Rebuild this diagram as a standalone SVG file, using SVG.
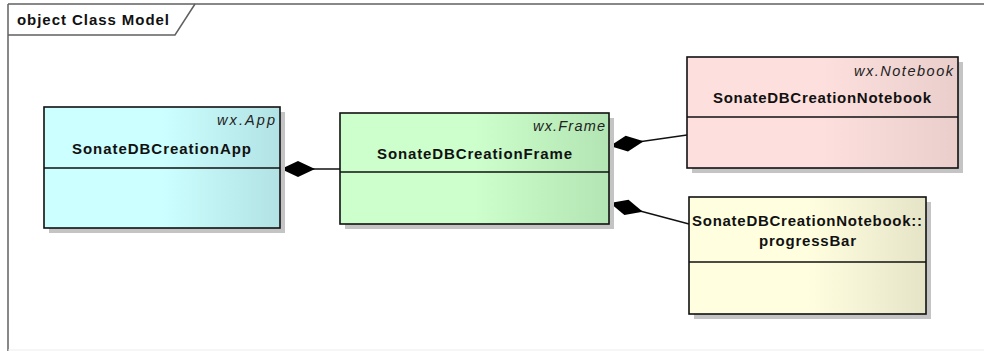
<svg xmlns="http://www.w3.org/2000/svg" width="984" height="351" viewBox="0 0 984 351">
  <defs>
    <style>
      .frame { fill: none; stroke: #606060; stroke-width: 1.5; }
      .shadow { fill: #c4c4c4; }
      .box { stroke: #111; stroke-width: 1.6; }
      .div { stroke: #111; stroke-width: 1.5; }
      .name { font-family: "Liberation Sans", Arial, sans-serif; font-size: 15px; font-weight: bold; fill: #111; }
      .stereo { font-family: "Liberation Sans", Arial, sans-serif; font-size: 14.5px; font-style: italic; fill: #222; }
      .title { font-family: "Liberation Sans", Arial, sans-serif; font-size: 15px; font-weight: bold; fill: #111; }
      .conn { fill: none; stroke: #111; stroke-width: 1.3; marker-start: url(#diamond); }
    </style>
    <linearGradient id="gApp" x1="0" y1="0" x2="1" y2="0">
      <stop offset="0" stop-color="#ccffff"/>
      <stop offset="0.5" stop-color="#ccffff"/>
      <stop offset="1" stop-color="#b2e2e4"/>
    </linearGradient>
    <linearGradient id="gFrame" x1="0" y1="0" x2="1" y2="0">
      <stop offset="0" stop-color="#ccffcc"/>
      <stop offset="0.5" stop-color="#ccffcc"/>
      <stop offset="1" stop-color="#b3e4b3"/>
    </linearGradient>
    <linearGradient id="gNote" x1="0" y1="0" x2="1" y2="0">
      <stop offset="0" stop-color="#fde0de"/>
      <stop offset="0.5" stop-color="#fde0de"/>
      <stop offset="1" stop-color="#e9cecc"/>
    </linearGradient>
    <linearGradient id="gBar" x1="0" y1="0" x2="1" y2="0">
      <stop offset="0" stop-color="#ffffe0"/>
      <stop offset="0.5" stop-color="#ffffe0"/>
      <stop offset="1" stop-color="#e6e4c7"/>
    </linearGradient>
    <!-- filled composition diamond, tip at the owning class -->
    <marker id="diamond" markerUnits="userSpaceOnUse" markerWidth="36" markerHeight="18" refX="0" refY="8" orient="auto" overflow="visible">
      <path d="M0,8 L17,0 L34,8 L17,16 Z" fill="#000"/>
    </marker>
  </defs>

  <rect x="0" y="0" width="984" height="351" fill="#fff"/>

  <!-- diagram frame with name tab -->
  <g id="diagram-frame">
    <line x1="8" y1="4" x2="984" y2="4" class="frame" stroke="#8a8a8a"/>
    <line x1="8" y1="4" x2="8" y2="351" class="frame" stroke="#404040"/>
    <line x1="8" y1="350" x2="984" y2="350" stroke="#ededed" stroke-width="1"/>
    <path d="M8,35 L175,35 L195,4" class="frame"/>
    <text x="17" y="25" class="title" textLength="152" lengthAdjust="spacing">object Class Model</text>
  </g>

  <g id="connectors">
    <path class="conn" d="M281,169 L340,169"/>
    <path class="conn" d="M610,146 L687,135"/>
    <path class="conn" d="M610,203 L689,224"/>
  </g>

  <g id="SonateDBCreationApp">
    <rect x="49" y="112" width="236" height="121" class="shadow"/>
    <rect x="44" y="107" width="236" height="121" fill="url(#gApp)" class="box"/>
    <line x1="44" y1="168" x2="280" y2="168" class="div"/>
    <text x="217" y="125" class="stereo" textLength="58" lengthAdjust="spacing">wx.App</text>
    <text x="72" y="154" class="name" textLength="179" lengthAdjust="spacing">SonateDBCreationApp</text>
  </g>

  <g id="SonateDBCreationFrame">
    <rect x="345" y="118" width="269" height="111" class="shadow"/>
    <rect x="340" y="113" width="269" height="111" fill="url(#gFrame)" class="box"/>
    <line x1="340" y1="172" x2="609" y2="172" class="div"/>
    <text x="533" y="131" class="stereo" textLength="72" lengthAdjust="spacing">wx.Frame</text>
    <text x="377" y="159" class="name" textLength="195" lengthAdjust="spacing">SonateDBCreationFrame</text>
  </g>

  <g id="SonateDBCreationNotebook">
    <rect x="692" y="62" width="271" height="111" class="shadow"/>
    <rect x="687" y="57" width="271" height="111" fill="url(#gNote)" class="box"/>
    <line x1="687" y1="117" x2="958" y2="117" class="div"/>
    <text x="854" y="76" class="stereo" textLength="99" lengthAdjust="spacing">wx.Notebook</text>
    <text x="713" y="103" class="name" textLength="218" lengthAdjust="spacing">SonateDBCreationNotebook</text>
  </g>

  <g id="progressBar">
    <rect x="694" y="202" width="237" height="117" class="shadow"/>
    <rect x="689" y="197" width="237" height="117" fill="url(#gBar)" class="box"/>
    <line x1="689" y1="262" x2="926" y2="262" class="div"/>
    <text x="692" y="226" class="name" textLength="230" lengthAdjust="spacing">SonateDBCreationNotebook::</text>
    <text x="759" y="246" class="name" textLength="97" lengthAdjust="spacing">progressBar</text>
  </g>
</svg>
